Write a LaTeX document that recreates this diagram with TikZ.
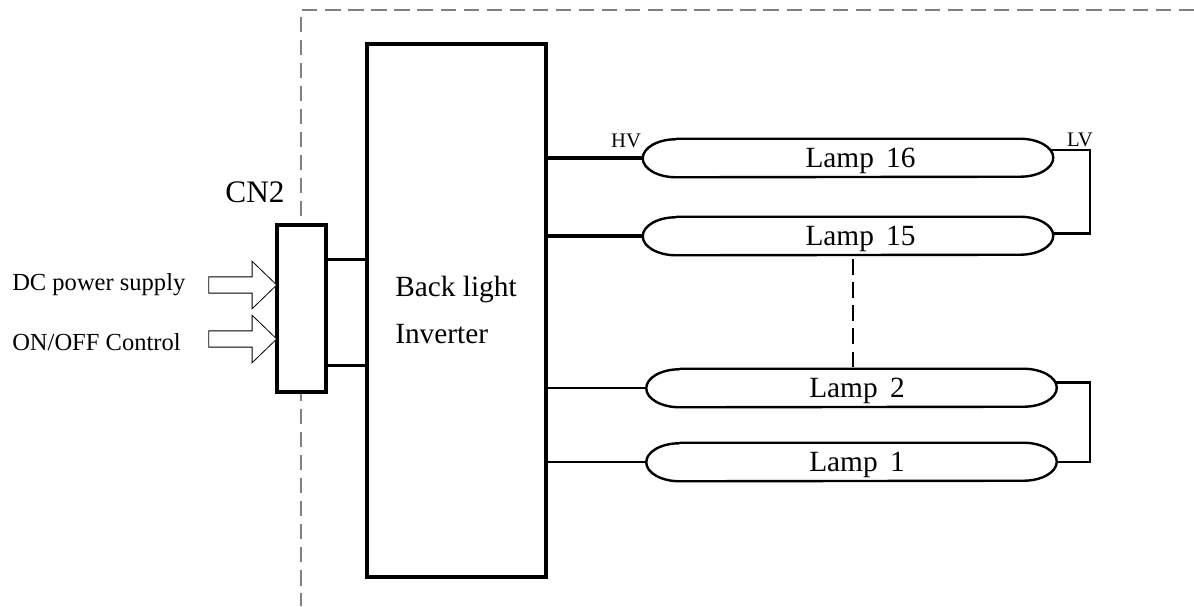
\documentclass[tikz,border=0pt]{standalone}
\usepackage{fontspec}
\setmainfont{Liberation Serif}
\usepackage{tikz}
\usetikzlibrary{shapes.arrows}
\newcommand{\lampText}[2]{\hspace*{#1}Lamp\hspace{0.42em}#2}

\begin{document}
\begin{tikzpicture}[x=0.75pt, y=-0.75pt, node distance=58.5pt]
        \tikzset{
           inverter/.style={
                        rectangle,
                        draw=black,
                        fill=white,
                        line width=3pt,
                        minimum width=134pt,
                        minimum height=400pt,
                        inner sep=0pt
                       },
           connector/.style={
                        rectangle,
                        draw=black,
                        fill=white,
                        line width=2.6pt,
                        minimum width=37pt,
                        minimum height=125pt,
                        inner sep=0pt
                       },
           lampLine/.style={
                        draw=black,
                        line width=1.8pt
                       },
           lamp/.style={
                        rectangle,
                        minimum width=307.5pt,
                        minimum height=28.5pt,
                        inner sep=0pt,
                        text height=19.2pt,
                        text depth=4.5pt,
                        font=\fontsize{22}{24}\selectfont,
                        append after command={\pgfextra{
                            \draw[lampLine] ([xshift=25pt]\tikzlastnode.north west)
                                -- ([xshift=-25pt]\tikzlastnode.north east)
                                arc[start angle=90, end angle=-90, x radius=25pt, y radius=14.25pt]
                                -- ([xshift=25pt]\tikzlastnode.south west)
                                arc[start angle=270, end angle=90, x radius=25pt, y radius=14.25pt];
                            }}
                       },
           inputArrow/.style={
                        single arrow,
                        draw=black,
                        fill=white,
                        line width=0.6pt,
                        inner xsep=0pt,
                        inner ysep=5.8pt,
                        minimum height=51pt,
                        single arrow head extend=11.7pt,
                        single arrow tip angle=88
                       },
           bigText/.style={
                        inner sep=0pt,
                        font=\fontsize{22}{24}\selectfont
                       },
           inputText/.style={
                        inner sep=0pt,
                        anchor=west,
                        font=\fontsize{18.4}{20}\selectfont
                       },
           voltText/.style={
                        inner sep=0pt,
                        font=\fontsize{15.5}{17}\selectfont
                       },
           boundary/.style={
                        draw=black!50,
                        line width=1.2pt,
                        dash pattern=on 11.5pt off 5.8pt
                       },
           wire/.style={
                        draw=black,
                        line width=2.5pt
                       },
           thinWire/.style={
                        draw=black,
                        line width=1.9pt
                       }
                 }
    %--------------------
        \useasboundingbox (0,0) rectangle (1194,606);
        \coordinate (boundaryTop)    at (301,10);
        \coordinate (boundaryRight)  at (1194,10);
        \coordinate (boundaryBottom) at (301,606);
        \coordinate (lvBusTop)       at (1090,200);
        \coordinate (lvBusLow)       at (1090,420);
        \coordinate (gapLine)        at (853,300);
        \draw[boundary] (boundaryRight) -- (boundaryTop) -- (boundaryBottom);
    %--------------------
        \node[inverter]  (backLight) at (456.5,310.5) {};
        \node[connector] (cn2)       at (301.5,308.5) {};

        \node[bigText, anchor=base west] (backLightText) at (395,296) {Back light};
        \node[bigText, anchor=base west] (inverterText)  at (395,343) {Inverter};
        \node[bigText, font=\fontsize{23.5}{26}\selectfont] (cn2Text) at (255,192) {CN2};

        \node[lamp] (lamp16) at (848,158)                       {\lampText{18.8pt}{16}};
        \node[lamp] (lamp15) [below of=lamp16]                  {\lampText{18.8pt}{15}};
        \node[lamp] (lamp2)  at (851.5,388)                     {\lampText{8.2pt}{2}};
        \node[lamp] (lamp1)  [below of=lamp2, node distance=55.5pt] {\lampText{8.2pt}{1}};

        \node[inputArrow] (dcArrow)  at (238.5,285) {};
        \node[inputArrow] (ctlArrow) at (238.5,339) {};
        \node[inputText] (dcText)  at (12,285) {DC power supply};
        \node[inputText] (ctlText) at (12,342) {ON/OFF Control};

        \node[voltText] (hvText) at (626,141) {HV};
        \node[voltText] (lvText) at (1080,140) {LV};
    %--------------------
        \path[wire] ([yshift=37pt]cn2.east) -- ([yshift=37pt]cn2.east -| backLight.west)
                    ([yshift=-42.5pt]cn2.east) -- ([yshift=-42.5pt]cn2.east -| backLight.west)

                    (lamp16.west -| backLight.east) -- (lamp16.west)
                    (lamp15.west -| backLight.east) -- (lamp15.west);

        \path[thinWire]
                    (lamp2.west -| backLight.east) -- (lamp2.west)
                    (lamp1.west -| backLight.east) -- (lamp1.west)

                    ([xshift=-2.4pt,yshift=6pt]lamp16.east) -| (lvBusTop) |- ([yshift=2pt]lamp15.east)
                    ([xshift=-0.9pt,yshift=4pt]lamp2.east)  -| (lvBusLow) |- (lamp1.east);

        \draw[line width=1.8pt, dash pattern=on 11.5pt off 5.8pt, shorten <=3pt, shorten >=1.5pt]
              (lamp15.south -| gapLine) -- (lamp2.north -| gapLine);
    \end{tikzpicture}
\end{document}
